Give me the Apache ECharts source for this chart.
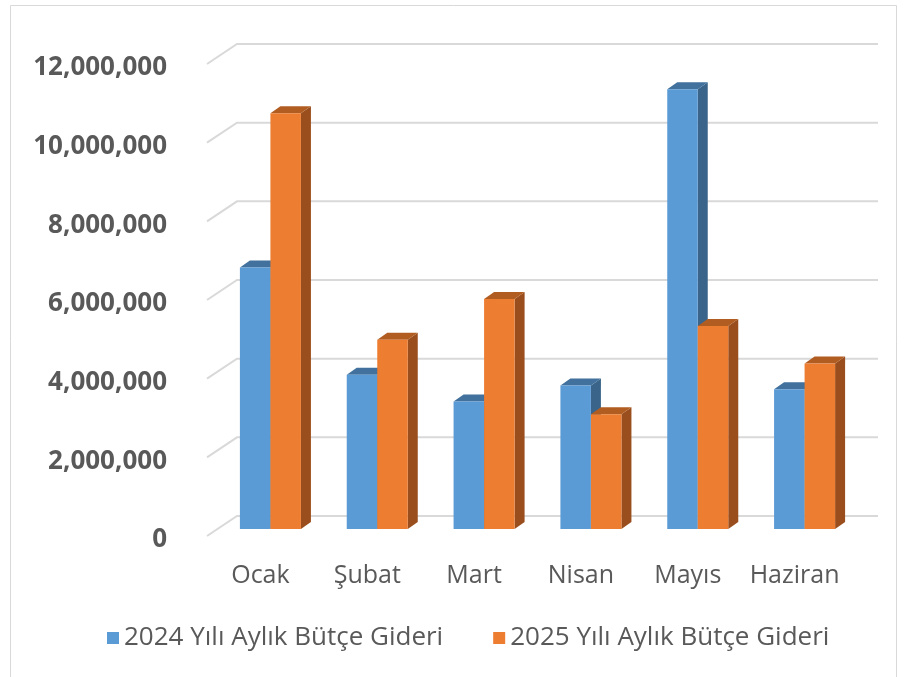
<!DOCTYPE html>
<html>
<head>
<meta charset="utf-8">
<script src="https://cdn.jsdelivr.net/npm/echarts@6/dist/echarts.min.js"></script>
<style>
  html, body { margin: 0; padding: 0; background: #fff; }
  #chart { width: 905px; height: 677px; }
</style>
</head>
<body>
<div id="chart"></div>
<script>
const months = ['Ocak', 'Şubat', 'Mart', 'Nisan', 'Mayıs', 'Haziran'];
const budget2024 = [6650000, 3920000, 3240000, 3650000, 11180000, 3550000];
const budget2025 = [10570000, 4810000, 5850000, 2920000, 5160000, 4210000];
const yTicks = [0, 2000000, 4000000, 6000000, 8000000, 10000000, 12000000];
const seriesNames = ['2024 Yılı Aylık Bütçe Gideri', '2025 Yılı Aylık Bütçe Gideri'];

const chart = echarts.init(document.getElementById('chart'));
const FONT = 'Open Sans';
const DX = 10, DY = 7; // bar depth
const BAR_FRAC = 0.2856;

// front / top / side shades for each series
const shades = [
  { front: '#5B9BD5', top: '#41719C', side: '#3A6489' },
  { front: '#ED7D31', top: '#B15D22', side: '#9A4E1D' }
];

const barItem = (idx) => (params, api) => {
  const cat = api.value(0);
  const top = api.coord([cat, api.value(1)]);
  const base = api.coord([cat, 0]);
  const w = api.size([1, 0])[0] * BAR_FRAC;
  const x0 = top[0] - w + idx * w;
  const yT = top[1], yB = base[1];
  const s = shades[idx];
  return {
    type: 'group',
    children: [
      { type: 'polygon', shape: { points: [[x0 + w, yT], [x0 + w + DX, yT - DY], [x0 + w + DX, yB - DY], [x0 + w, yB]] },
        style: { fill: s.side } },
      { type: 'polygon', shape: { points: [[x0, yT], [x0 + DX, yT - DY], [x0 + w + DX, yT - DY], [x0 + w, yT]] },
        style: { fill: s.top } },
      { type: 'rect', shape: { x: x0, y: yT, width: w, height: yB - yT },
        style: { fill: s.front } }
    ]
  };
};

chart.setOption({
  backgroundColor: '#fff',
  animation: false,
  textStyle: { fontFamily: FONT },
  graphic: [{
    type: 'rect', shape: { x: 10.5, y: 5.5, width: 886, height: 700 },
    style: { fill: 'none', stroke: '#d9d9d9', lineWidth: 1 }, z: -1
  }],
  grid: [
    // back wall
    { left: 237, right: 27, top: 44, bottom: 161 },
    // front plane (labels)
    { left: 207, right: 57, top: 68, bottom: 137 },
    // bar plane
    { left: 217, right: 47, top: 57, bottom: 148 }
  ],
  xAxis: [
    { gridIndex: 0, type: 'value', min: 0, max: 1, show: false },
    { gridIndex: 1, type: 'category', data: months,
      axisLine: { show: false }, axisTick: { show: false },
      axisLabel: { color: '#595959', fontSize: 25, margin: 23, interval: 0, fontFamily: FONT } },
    { gridIndex: 2, type: 'category', data: months, show: false }
  ],
  yAxis: [
    { gridIndex: 0, type: 'value', min: 0, max: 12000000, interval: 2000000, show: false },
    { gridIndex: 1, type: 'value', min: 0, max: 12000000, interval: 2000000,
      axisLine: { show: false }, axisTick: { show: false }, splitLine: { show: false },
      axisLabel: { color: '#595959', fontSize: 26, fontWeight: 'bold', margin: 40, fontFamily: FONT,
        formatter: (v) => v.toLocaleString('en-US') } },
    { gridIndex: 2, type: 'value', min: 0, max: 12000000, interval: 2000000, show: false }
  ],
  legend: {
    data: seriesNames.map((n, i) => ({ name: n, icon: 'rect', itemStyle: { color: shades[i].front } })),
    top: 620, left: 102, itemWidth: 12, itemHeight: 12, itemGap: 50,
    textStyle: { color: '#595959', fontSize: 26, fontFamily: FONT }
  },
  series: [
    {
      type: 'custom', xAxisIndex: 0, yAxisIndex: 0, clip: false, silent: true, z: 1,
      data: yTicks.map((v) => [0, v]),
      renderItem: (params, api) => {
        const p = api.coord([0, api.value(1)]);
        const cs = params.coordSys;
        return {
          type: 'polyline',
          shape: { points: [[cs.x - 30, p[1] + 20], [cs.x, p[1]], [cs.x + cs.width, p[1]]] },
          style: { stroke: '#d9d9d9', lineWidth: 2, fill: 'none' }
        };
      }
    },
    {
      name: seriesNames[0], type: 'custom', xAxisIndex: 2, yAxisIndex: 2, z: 2,
      itemStyle: { color: shades[0].front },
      data: budget2024.map((v, i) => [i, v]),
      renderItem: barItem(0)
    },
    {
      name: seriesNames[1], type: 'custom', xAxisIndex: 2, yAxisIndex: 2, z: 3,
      itemStyle: { color: shades[1].front },
      data: budget2025.map((v, i) => [i, v]),
      renderItem: barItem(1)
    }
  ]
});
</script>
</body>
</html>
